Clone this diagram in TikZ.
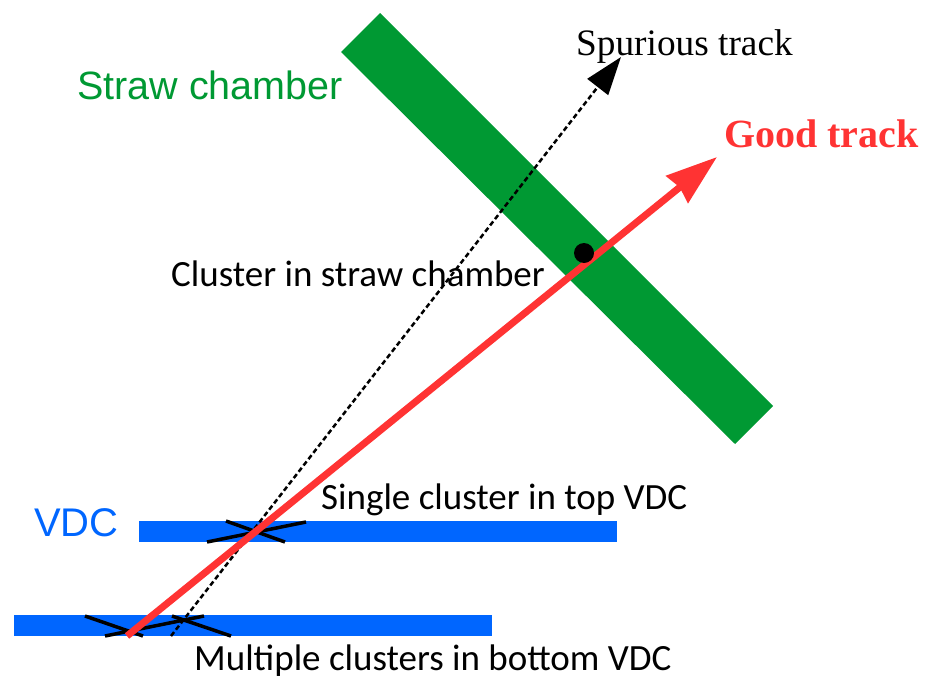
\documentclass[tikz,border=0pt]{standalone}
\usepackage{fontspec}
\setmainfont{Liberation Serif}
\newfontfamily\carlito{Carlito}
\newfontfamily\libsans{Liberation Sans}
\usetikzlibrary{arrows.meta}
\definecolor{strawgreen}{RGB}{0,153,51}
\definecolor{vdcblue}{RGB}{0,102,255}
\definecolor{trackred}{RGB}{255,51,51}
\tikzset{
  vdcbar/.style={fill=vdcblue, draw=none},
  crossline/.style={draw=black, line width=3.5pt},
  goodtrack/.style={draw=trackred, line width=7pt, -{Stealth[length=51pt,width=34pt,inset=3pt]}},
  spurtrack/.style={draw=black, line width=2.5pt, dash pattern=on 5pt off 3pt, -{Triangle[length=38pt,width=26pt]}},
  labeltext/.style={anchor=base west, inner sep=0pt, font=\carlito\fontsize{37}{40}\selectfont},
}
\begin{document}
\begin{tikzpicture}[x=1pt,y=-1pt]
\useasboundingbox (0,0) rectangle (926,680);
% straw chamber
\fill[strawgreen] (380,13) -- (773,406) -- (735,444) -- (341,52) -- cycle;
% VDC planes
\fill[vdcblue] (139,521) rectangle (617,542);
\fill[vdcblue] (14,615) rectangle (492,636);
% crosses (clusters)
\draw[crossline] (207,542) -- (306,522);
\draw[crossline] (226,521) -- (285,542);
\draw[crossline] (85,616) -- (143,636);
\draw[crossline] (105,636) -- (204,616);
\draw[crossline] (172,616) -- (231,636);
% tracks
\coordinate (spurstart) at (171,636);
\coordinate (spurtip) at (621,57);
\coordinate (goodstart) at (127,636);
\coordinate (goodtip) at (717,157);
\draw[spurtrack] (spurstart) -- (spurtip);
\draw[goodtrack] (goodstart) -- (goodtip);
% cluster dot
\fill[black] (584,253) circle (10);
% labels
\node[anchor=base west, inner sep=0pt, text=strawgreen, font=\libsans\fontsize{39.5}{42}\selectfont] (lstraw) at (77,99) {Straw chamber};
\node[anchor=base west, inner sep=0pt, text=vdcblue, font=\libsans\fontsize{40}{42}\selectfont] (lvdc) at (34,536) {VDC};
\node[labeltext] (lcluster) at (171,286) {Cluster in straw chamber};
\node[labeltext] (lsingle) at (321,509) {Single cluster in top VDC};
\node[labeltext] (lmulti) at (194,670) {Multiple clusters in bottom VDC};
\node[anchor=base west, inner sep=0pt, font=\fontsize{37.3}{40}\selectfont] (lspur) at (576,55) {Spurious track};
\node[anchor=base west, inner sep=0pt, text=trackred, font=\bfseries\fontsize{40}{42}\selectfont] (lgood) at (724,147) {Good track};
\end{tikzpicture}
\end{document}
